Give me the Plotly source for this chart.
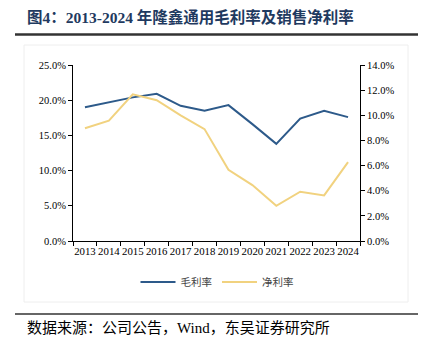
import plotly.graph_objects as go

years = ["2013","2014","2015","2016","2017","2018","2019","2020","2021","2022","2023","2024"]
gross_margin = [19.0, 19.7, 20.4, 20.9, 19.2, 18.5, 19.3, 16.6, 13.8, 17.4, 18.5, 17.6]
net_margin = [8.97, 9.57, 11.67, 11.2, 10.0, 8.9, 5.67, 4.45, 2.8, 3.92, 3.63, 6.28]

W, H = 423, 353
L, R, T, B = 73, 360, 65, 241

def px(x):
    return (x - L) / (R - L)

def py(y):
    return (B - y) / (B - T)

fig = go.Figure()
fig.add_trace(go.Scatter(x=years, y=gross_margin, name="毛利率", mode="lines",
                         line=dict(color="#2D5A8A", width=2)))
fig.add_trace(go.Scatter(x=years, y=net_margin, name="净利率", mode="lines",
                         line=dict(color="#F1D27F", width=2), yaxis="y2"))

serif = "Liberation Serif, Times New Roman, serif"
cjk = "Noto Sans CJK SC"
mixed = "Liberation Serif, Noto Sans CJK SC"

fig.update_layout(
    width=W, height=H,
    margin=dict(l=L, r=W - R, t=T, b=H - B, pad=0),
    paper_bgcolor="white", plot_bgcolor="white",
    showlegend=True,
    legend=dict(orientation="h", x=px(217), xanchor="center", y=py(282), yanchor="middle",
                font=dict(family=cjk, size=10.5, color="#444"), itemwidth=35,
                bgcolor="rgba(0,0,0,0)", tracegroupgap=0),
    xaxis=dict(type="category", range=[-0.5, 11.5], showline=True, linecolor="black", linewidth=1,
               ticks="outside", tickson="boundaries", ticklen=4, tickcolor="black", tickangle=0,
               tickfont=dict(family=serif, size=10.8, color="black"), showgrid=False, zeroline=False),
    yaxis=dict(range=[0, 25], dtick=5, tickformat=".1f", ticksuffix="%", showline=True,
               linecolor="black", linewidth=1, ticks="outside", ticklen=4, tickcolor="black",
               tickfont=dict(family=serif, size=10.5, color="black"), showgrid=False, zeroline=False),
    yaxis2=dict(range=[0, 14], dtick=2, tickformat=".1f", ticksuffix="%", overlaying="y", side="right",
                showline=True, linecolor="black", linewidth=1, ticks="outside", ticklen=4, tickcolor="black",
                tickfont=dict(family=serif, size=10.5, color="black"), showgrid=False, zeroline=False),
)

# title
fig.add_annotation(xref="paper", yref="paper", x=px(25), y=py(17), xanchor="left", yanchor="middle",
                   text="<b>图4：2013-2024 年隆鑫通用毛利率及销售净利率</b>", showarrow=False,
                   font=dict(family=mixed, size=15.5, color="#1F3A60"))
# source
fig.add_annotation(xref="paper", yref="paper", x=px(25), y=py(328), xanchor="left", yanchor="middle",
                   text="数据来源：公司公告，Wind，东吴证券研究所", showarrow=False,
                   font=dict(family=mixed, size=15, color="black"))

shapes = [
    dict(type="line", xref="paper", yref="paper", x0=px(15), x1=px(418), y0=py(34.5), y1=py(34.5),
         line=dict(color="#333", width=2.5)),
    dict(type="line", xref="paper", yref="paper", x0=px(15), x1=px(418), y0=py(314), y1=py(314),
         line=dict(color="#333", width=1.5)),
    dict(type="rect", xref="paper", yref="paper", x0=px(24), x1=px(408), y0=py(45), y1=py(302),
         line=dict(color="#EEEEEE", width=1), layer="below"),
]
fig.update_layout(shapes=shapes)

fig.write_html("out.html")
